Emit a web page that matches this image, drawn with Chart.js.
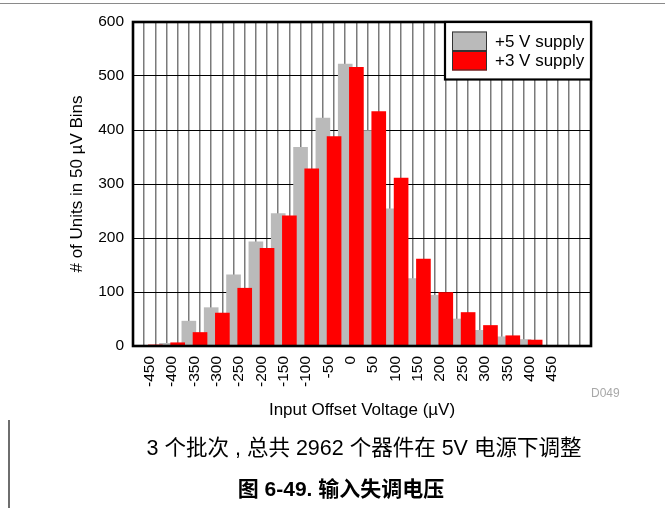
<!DOCTYPE html>
<html>
<head>
<meta charset="utf-8">
<script src="https://cdn.jsdelivr.net/npm/chart.js@4/dist/chart.umd.min.js"></script>
<style>
  html, body { margin: 0; padding: 0; background: #fff; }
  #wrap { position: relative; width: 665px; height: 508px; overflow: hidden; }
  #c { position: absolute; left: 0; top: 0; }
  .txt { position: absolute; white-space: nowrap; color: #000;
         font-family: "Liberation Sans", Arial, "Noto Sans CJK SC", sans-serif; }
  #code { left: 591px; top: 386px; font-size: 12px; color: #a8a8a8; }
  #note { left: 0; width: 728px; text-align: center; top: 430px; font-size: 21.5px; }
  #fig  { left: 0; width: 682px; text-align: center; top: 472px; font-size: 21px; font-weight: bold; }
  #rule-left { position: absolute; left: 8px; top: 420px; width: 2px; height: 88px; background: #6e6e6e; }
  #rule-top  { position: absolute; left: 0; top: 3px; width: 665px; height: 1px; background: #8a8a8a; }
</style>
</head>
<body>
<div id="wrap">
  <canvas id="c" width="665" height="508"></canvas>
  <div id="rule-top"></div>
  <div id="rule-left"></div>
  <div id="code" class="txt">D049</div>
  <div id="note" class="txt">3 个批次 , 总共 2962 个器件在 5V 电源下调整</div>
  <div id="fig" class="txt">图 6-49. 输入失调电压</div>
</div>
<script>
// Histogram bins (µV), one per 50 µV
const binCenters = [-450, -400, -350, -300, -250, -200, -150, -100, -50, 0,
                    50, 100, 150, 200, 250, 300, 350, 400, 450];
const binWidth = 50;

// Units per bin for each supply
const supply5V = [0, 5, 46, 71, 132, 193, 245, 368, 422, 522,
                  399, 254, 125, 94, 50, 29, 17, 12, 0];
const supply3V = [2, 6, 25, 61, 107, 181, 241, 328, 388, 516,
                  434, 311, 161, 99, 62, 38, 19, 11, 1];

// Axis labels
const xTickLabels = [-450, -400, -350, -300, -250, -200, -150, -100, -50, 0,
                     50, 100, 150, 200, 250, 300, 350, 400, 450];
const yTickValues = [0, 100, 200, 300, 400, 500, 600];
const seriesLabels = ['+5 V supply', '+3 V supply'];

const FONT = '"Liberation Sans", Arial, sans-serif';

// Heavy black frame around the plot area
const framePlugin = {
  id: 'plotFrame',
  afterDatasetsDraw(chart) {
    const { ctx, chartArea: a } = chart;
    ctx.save();
    ctx.strokeStyle = '#000';
    ctx.lineWidth = 2.6;
    ctx.strokeRect(a.left, a.top, a.right - a.left, a.bottom - a.top);
    ctx.restore();
  }
};

// Boxed legend in the upper right corner of the plot
const boxLegendPlugin = {
  id: 'boxLegend',
  afterDraw(chart) {
    const { ctx, chartArea: a } = chart;
    const boxW = 146, boxH = 57.5;
    const x0 = a.right - boxW, y0 = a.top;
    ctx.save();
    ctx.fillStyle = '#fff';
    ctx.fillRect(x0, y0, boxW, boxH);
    ctx.strokeStyle = '#000';
    ctx.lineWidth = 2.2;
    ctx.strokeRect(x0, y0, boxW, boxH);
    const items = chart.data.datasets.slice().sort((p, q) => p.legendIndex - q.legendIndex);
    items.forEach((ds, i) => {
      const sx = x0 + 7, sy = y0 + 9.5 + i * 19.5;
      ctx.fillStyle = ds.backgroundColor;
      ctx.fillRect(sx, sy, 35, 19.5);
      ctx.strokeStyle = '#333';
      ctx.lineWidth = 1;
      ctx.strokeRect(sx + 0.5, sy + 0.5, 34, 18.5);
      ctx.fillStyle = '#000';
      ctx.font = '17px ' + FONT;
      ctx.textBaseline = 'middle';
      ctx.textAlign = 'left';
      ctx.fillText(ds.label, x0 + 50, sy + 10.5);
    });
    ctx.restore();
  }
};

const grayData = binCenters.map((b, i) => ({ x: b - binWidth / 4, y: supply5V[i] }));
const redData  = binCenters.map((b, i) => ({ x: b + binWidth / 4, y: supply3V[i] }));

new Chart(document.getElementById('c'), {
  type: 'bar',
  data: {
    datasets: [
      { label: seriesLabels[0], data: grayData, backgroundColor: '#bababa',
        borderWidth: 0, barThickness: 14, grouped: false, order: 2, legendIndex: 0 },
      { label: seriesLabels[1], data: redData, backgroundColor: '#ff0000',
        borderWidth: 0, barThickness: 14, grouped: false, order: 1, legendIndex: 1 }
    ]
  },
  options: {
    responsive: false,
    animation: false,
    devicePixelRatio: 1,
    layout: { padding: { left: 0, top: 22, right: 74, bottom: 0 } },
    plugins: { legend: { display: false }, tooltip: { enabled: false } },
    scales: {
      x: {
        type: 'linear',
        position: 'bottom',
        min: binCenters[0] - binWidth / 2,
        max: binCenters[binCenters.length - 1] + binWidth * 1.5,
        grid: { color: '#7a7a7a', lineWidth: 1.5, drawTicks: false },
        border: { display: false },
        ticks: {
          stepSize: binWidth / 2,
          autoSkip: false,
          minRotation: 90,
          maxRotation: 90,
          padding: 10,
          color: '#000',
          font: { family: FONT, size: 15.5 },
          callback: (v) => xTickLabels.includes(v) ? String(v) : ''
        },
        title: {
          display: true,
          text: 'Input Offset Voltage (µV)',
          color: '#000',
          font: { family: FONT, size: 17 },
          padding: { top: 0, bottom: 87 }
        },
        afterFit: (s) => { s.height = 162; }
      },
      y: {
        min: 0,
        max: 600,
        afterBuildTicks: (s) => { s.ticks = yTickValues.map(v => ({ value: v })); },
        grid: { color: '#000', lineWidth: 1, drawTicks: false },
        border: { display: false },
        ticks: {
          padding: 9,
          color: '#000',
          font: { family: FONT, size: 15.5 }
        },
        title: {
          display: true,
          text: '# of Units in 50 µV Bins',
          color: '#000',
          font: { family: FONT, size: 17 },
          padding: { top: 67.5, bottom: 0 }
        },
        afterFit: (s) => { s.width = 133; }
      }
    }
  },
  plugins: [framePlugin, boxLegendPlugin]
});
</script>
</body>
</html>
